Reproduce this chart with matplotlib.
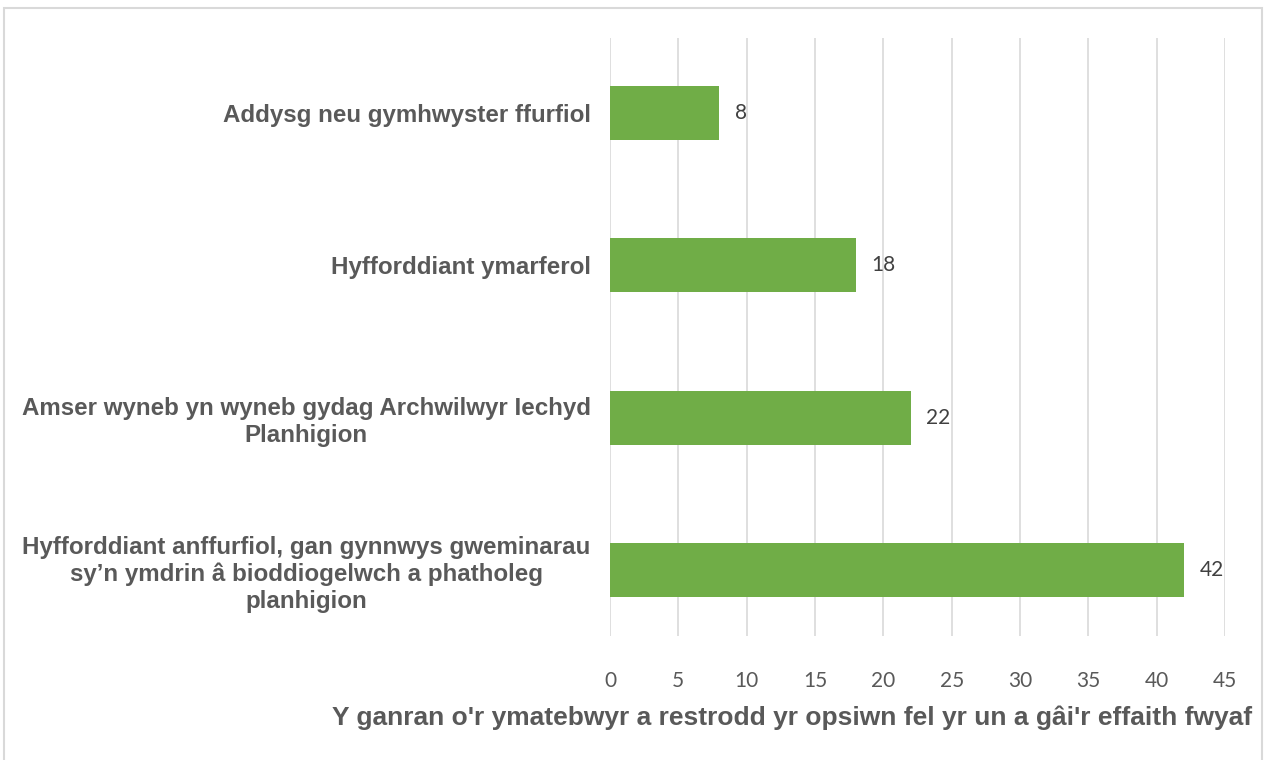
import matplotlib.pyplot as plt
from matplotlib.patches import Rectangle

# data, bottom to top as drawn
categories = [
    "Hyfforddiant anffurfiol, gan gynnwys gweminarau\nsy\u2019n ymdrin \u00e2 bioddiogelwch a phatholeg\nplanhigion",
    "Amser wyneb yn wyneb gydag Archwilwyr Iechyd\nPlanhigion",
    "Hyfforddiant ymarferol",
    "Addysg neu gymhwyster ffurfiol",
]
values = [42, 22, 18, 8]
xticks = list(range(0, 50, 5))
xlabel = "Y ganran o'r ymatebwyr a restrodd yr opsiwn fel yr un a g\u00e2i'r effaith fwyaf"

label_font = ['Liberation Sans', 'DejaVu Sans']
num_font = ['Lato', 'DejaVu Sans']
grey = '#595959'

fig = plt.figure(figsize=(12.65, 7.6), dpi=100)
ax = fig.add_axes([0.4822, 0.1632, 0.4862, 0.7868])

ypos = list(range(len(categories)))
ax.barh(ypos, values, height=0.355, color='#70AD47', zorder=3)

for y, v in zip(ypos, values):
    ax.text(v + 1.15, y, str(v), va='center', ha='left', fontsize=15,
            color='#404040', family=num_font)

ax.set_xlim(0, 45)
ax.set_ylim(-0.43, 3.49)
ax.set_xticks(xticks)
ax.set_xticklabels([str(t) for t in xticks], family=num_font, fontsize=15, color=grey)
ax.set_yticks(ypos)
ax.set_yticklabels(categories, family=label_font, fontsize=17.4, fontweight='bold',
                   color=grey, multialignment='center')
ax.tick_params(axis='both', length=0)
ax.tick_params(axis='y', pad=14)
ax.tick_params(axis='x', pad=25)
ax.grid(axis='x', color='#D9D9D9', linewidth=1.2, zorder=0)
for s in ax.spines.values():
    s.set_visible(False)

fig.text(0.626, 0.055, xlabel, ha='center', va='center', fontsize=19,
         fontweight='bold', color=grey, family=label_font)

# outer chart border
fig.patches.append(Rectangle((4 / 1265, -0.01), 1258 / 1265, 1 - 8 / 760 + 0.01,
                             transform=fig.transFigure, fill=False,
                             edgecolor='#D9D9D9', linewidth=1.5))

fig.savefig('out.png', dpi=100)
plt.close(fig)
